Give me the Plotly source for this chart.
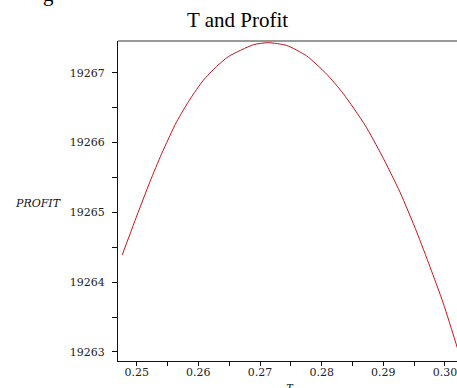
import plotly.graph_objects as go

T = [0.24766, 0.24972, 0.25216, 0.25405, 0.25649, 0.25865, 0.26080, 0.26297,
     0.26486, 0.26891, 0.27134, 0.27433, 0.27757, 0.28081, 0.28351, 0.28703,
     0.28973, 0.29270, 0.29541, 0.29757, 0.29972, 0.30162, 0.30200]
PROFIT = [19264.39, 19264.88, 19265.44, 19265.84, 19266.30, 19266.62, 19266.89, 19267.09,
          19267.23, 19267.40, 19267.43, 19267.39, 19267.24, 19266.98, 19266.70, 19266.25,
          19265.82, 19265.29, 19264.72, 19264.22, 19263.70, 19263.17, 19263.06]

x_ticks = [0.25, 0.26, 0.27, 0.28, 0.29, 0.30]
x_labels = ["0.25", "0.26", "0.27", "0.28", "0.29", "0.30"]
y_ticks = [19263, 19264, 19265, 19266, 19267]
y_labels = ["19263", "19264", "19265", "19266", "19267"]

W, H = 457, 388
L, R, TOP, B = 118, 0, 41, 27
pw, ph = W - L - R, H - TOP - B

def px(x):
    return (x - L) / pw

def py(y):
    return (H - B - y) / ph

fig = go.Figure()
fig.add_trace(go.Scatter(x=T, y=PROFIT, mode="lines",
                         line=dict(color="#c4141a", width=1, shape="spline", smoothing=0.6),
                         hoverinfo="skip", showlegend=False))

serif = "Liberation Serif, Times New Roman, serif"
tickserif = "DejaVu Serif, serif"
tickfont = dict(family=tickserif, size=11, color="#222")

fig.update_layout(
    width=W, height=H,
    margin=dict(l=L, r=R, t=TOP, b=B),
    paper_bgcolor="white", plot_bgcolor="white",
    showlegend=False,
    xaxis=dict(range=[0.24697, 0.30195], tickvals=x_ticks, ticktext=x_labels,
               ticks="outside", ticklen=4, tickwidth=1, tickcolor="#111",
               showline=True, linecolor="#111", linewidth=1,
               showgrid=False, zeroline=False, tickfont=tickfont,
               ticklabelstandoff=-3, ticklabeloverflow="allow",
               minor=dict(tickvals=[0.255, 0.265, 0.275, 0.285, 0.295],
                          ticks="outside", ticklen=4, tickcolor="#111")),
    yaxis=dict(range=[19262.871, 19267.454], tickvals=y_ticks, ticktext=y_labels,
               ticks="outside", ticklen=5, tickwidth=1, tickcolor="#111",
               showline=True, linecolor="#111", linewidth=1,
               showgrid=False, zeroline=False, tickfont=tickfont,
               ticklabelstandoff=5, ticklabeloverflow="allow",
               minor=dict(tickvals=[19263.5, 19264.5, 19265.5, 19266.5],
                          ticks="outside", ticklen=5, tickcolor="#111")),
    shapes=[dict(type="line", xref="paper", yref="paper", x0=0, x1=1, y0=1, y1=1,
                 line=dict(color="#777", width=1.5))],
    annotations=[
        dict(text="T and Profit", xref="paper", yref="paper", x=px(237), y=py(20),
             xanchor="center", yanchor="middle", showarrow=False,
             font=dict(family=serif, size=21, color="#000")),
        dict(text="<i>PROFIT</i>", xref="paper", yref="paper", x=px(38), y=py(203),
             xanchor="center", yanchor="middle", showarrow=False,
             font=dict(family=tickserif, size=11, color="#111")),
        dict(text="<i>T</i>", xref="paper", yref="paper", x=px(290), y=py(379),
             xanchor="center", yanchor="top", showarrow=False,
             font=dict(family=serif, size=12, color="#111")),
        dict(text="g", xref="paper", yref="paper", x=px(48), y=py(-6),
             xanchor="center", yanchor="middle", showarrow=False,
             font=dict(family=serif, size=21, color="#000")),
    ],
)

fig.write_html(
    "out.html",
    config={"displayModeBar": False},
    post_script="document.documentElement.style.overflow='hidden';"
                "document.body.style.margin='0';document.body.style.overflow='hidden';",
)
